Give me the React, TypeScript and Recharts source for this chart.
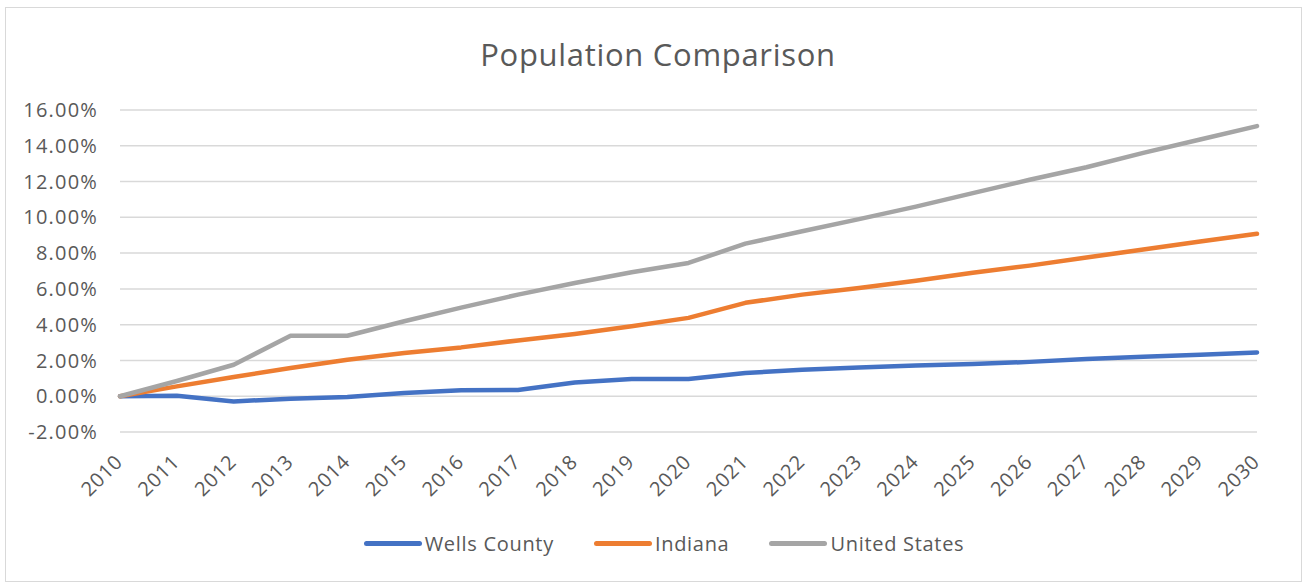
import React from 'react';
import { LineChart, Line, XAxis, YAxis, CartesianGrid } from 'recharts';

const years = [
  '2010', '2011', '2012', '2013', '2014', '2015', '2016', '2017', '2018', '2019', '2020',
  '2021', '2022', '2023', '2024', '2025', '2026', '2027', '2028', '2029', '2030',
];

// values in percent
const wellsCounty = [
  0, 0.02, -0.29, -0.14, -0.05, 0.18, 0.33, 0.35, 0.77, 0.96, 0.96,
  1.3, 1.48, 1.6, 1.72, 1.8, 1.92, 2.08, 2.2, 2.32, 2.45,
];
const indiana = [
  0, 0.55, 1.07, 1.58, 2.04, 2.42, 2.73, 3.12, 3.48, 3.91, 4.38,
  5.22, 5.68, 6.05, 6.45, 6.9, 7.3, 7.75, 8.2, 8.65, 9.08,
];
const unitedStates = [
  0, 0.85, 1.76, 3.38, 3.38, 4.19, 4.95, 5.68, 6.33, 6.93, 7.45,
  8.53, 9.22, 9.9, 10.6, 11.35, 12.1, 12.8, 13.6, 14.35, 15.1,
];

const yTicks = [-2, 0, 2, 4, 6, 8, 10, 12, 14, 16];

const series = [
  { key: 'wells', name: 'Wells County', color: '#4472C4' },
  { key: 'indiana', name: 'Indiana', color: '#ED7D31' },
  { key: 'us', name: 'United States', color: '#A5A5A5' },
];

const chartData = years.map((year, i) => ({
  year,
  wells: wellsCounty[i],
  indiana: indiana[i],
  us: unitedStates[i],
}));

const FONT = '"Open Sans", sans-serif';
const TEXT = '#595959';

const YearTick = ({ x, y, payload }: any) => {
  const ax = x + 4;
  const ay = y + 31;
  return (
    <text
      x={ax}
      y={ay}
      textAnchor="end"
      transform={`rotate(-45, ${ax}, ${ay})`}
      fill={TEXT}
      fontSize={20}
      fontFamily={FONT}
      letterSpacing={0.8}
    >
      {payload.value}
    </text>
  );
};

const App: React.FC = () => {
  return (
    <div style={{ position: 'absolute', left: 0, top: 0, width: 1308, height: 583, background: '#fff' }}>
      <div
        style={{
          position: 'absolute',
          left: 5,
          top: 7,
          width: 1295,
          height: 573,
          border: '1px solid #d9d9d9',
        }}
      />
      <div
        style={{
          position: 'absolute',
          left: 0,
          width: 1316,
          top: 39,
          textAlign: 'center',
          fontFamily: FONT,
          fontSize: 31,
          lineHeight: '31px',
          color: TEXT,
          letterSpacing: 0.7,
        }}
      >
        Population Comparison
      </div>
      <div style={{ position: 'absolute', left: 0, top: 0 }}>
        <LineChart
          width={1308}
          height={583}
          data={chartData}
          margin={{ top: 110, right: 51, bottom: 121, left: 0 }}
        >
          <CartesianGrid vertical={false} stroke="#d9d9d9" strokeWidth={1.5} />
          <XAxis
            dataKey="year"
            height={30}
            axisLine={false}
            tickLine={false}
            tickSize={0}
            tickMargin={0}
            interval={0}
            tick={<YearTick />}
          />
          <YAxis
            type="number"
            domain={[-2, 16]}
            ticks={yTicks}
            width={120}
            axisLine={false}
            tickLine={false}
            tickSize={0}
            tickMargin={22}
            tickFormatter={(v: number) => `${v.toFixed(2)}%`}
            tick={{ fill: TEXT, fontSize: 20, fontFamily: FONT, letterSpacing: 1.2 }}
          />
          {series.map((s) => (
            <Line
              key={s.key}
              type="linear"
              dataKey={s.key}
              name={s.name}
              stroke={s.color}
              strokeWidth={4.5}
              strokeLinejoin="round"
              strokeLinecap="round"
              dot={false}
              activeDot={false}
              isAnimationActive={false}
            />
          ))}
        </LineChart>
      </div>
      <div
        style={{
          position: 'absolute',
          left: 0,
          width: 1308,
          top: 530,
          display: 'flex',
          justifyContent: 'center',
          fontFamily: FONT,
          fontSize: 20,
          letterSpacing: 0.7,
          color: TEXT,
          marginLeft: 10,
        }}
      >
        {series.map((s) => (
          <div key={s.key} style={{ display: 'flex', alignItems: 'center', margin: '0 20px' }}>
            <span
              style={{
                display: 'inline-block',
                width: 58,
                height: 5,
                borderRadius: 3,
                background: s.color,
                marginRight: 3,
              }}
            />
            <span>{s.name}</span>
          </div>
        ))}
      </div>
    </div>
  );
};

export default App;
